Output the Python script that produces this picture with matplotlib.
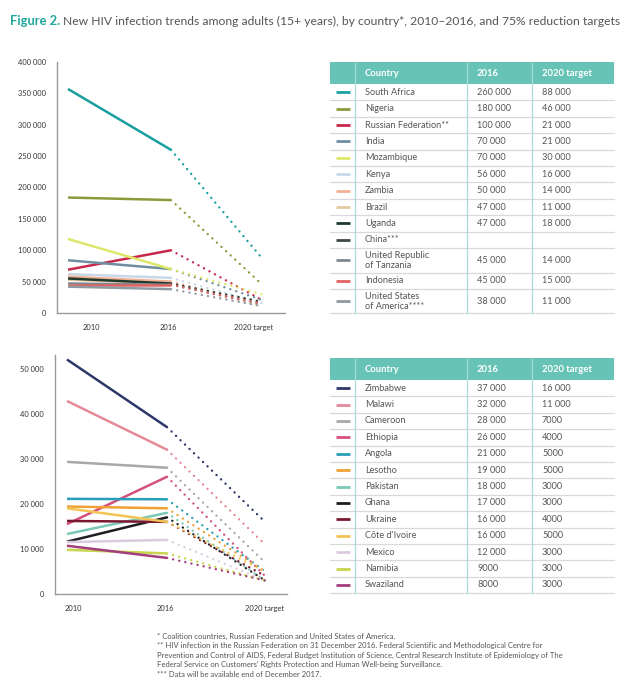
import matplotlib
matplotlib.use("Agg")
import matplotlib.pyplot as plt
from matplotlib.patches import Rectangle
from matplotlib.ticker import FuncFormatter
import matplotlib.transforms as mtrans

plt.rcParams['font.family'] = ['Lato', 'DejaVu Sans']

# ---------------- data ----------------
top_countries = ["South Africa", "Nigeria", "Russian Federation**", "India", "Mozambique",
                 "Kenya", "Zambia", "Brazil", "Uganda", "China***",
                 "United Republic\nof Tanzania", "Indonesia", "United States\nof America****"]
top_2010 = [357000, 184000, 69000, 84000, 118000, 62000, 58000, 53000, 55000, None,
            47000, 45000, 42000]
top_2016 = [260000, 180000, 100000, 70000, 70000, 56000, 50000, 47000, 47000, None,
            45000, 45000, 38000]
top_target = [88000, 46000, 21000, 21000, 30000, 16000, 14000, 11000, 18000, None,
              14000, 15000, 11000]
top_colors = ["#1a9fa0", "#8c9a3c", "#c9284c", "#6f8fa0", "#dde86a", "#c8d8e8",
              "#f2b096", "#e6caa2", "#1f3a2c", "#3c4848", "#7f8890", "#e26262", "#8e9aa2"]

bot_countries = ["Zimbabwe", "Malawi", "Cameroon", "Ethiopia", "Angola", "Lesotho",
                 "Pakistan", "Ghana", "Ukraine", "Côte d'Ivoire", "Mexico", "Namibia", "Swaziland"]
bot_2010 = [52000, 42800, 29300, 15500, 21100, 19400, 13300, 11600, 16200, 19000,
            11500, 9800, 10700]
bot_2016 = [37000, 32000, 28000, 26000, 21000, 19000, 18000, 17000, 16000, 16000,
            12000, 9000, 8000]
bot_target = [16000, 11000, 7000, 4000, 5000, 5000, 3000, 3000, 4000, 5000,
              3000, 3000, 3000]
bot_colors = ["#2e3868", "#e48a98", "#a8a8ac", "#d6507e", "#2a9eb8", "#f0a034",
              "#7cc8b6", "#1e1e22", "#7a1830", "#f2c454", "#dccbe0", "#c8d44c", "#a23e7c"]

x_labels = ["2010", "2016", "2020 target"]
top_yticks = [0, 50000, 100000, 150000, 200000, 250000, 300000, 350000, 400000]
bot_yticks = [0, 10000, 20000, 30000, 40000, 50000]

teal = "#67c3b6"
grey_text = "#555555"

fig = plt.figure(figsize=(6.4, 6.82), dpi=100)

# overlay axes in pixel coordinates for title, tables and notes
ov = fig.add_axes([0, 0, 1, 1], zorder=0)
ov.set_xlim(0, 640)
ov.set_ylim(682, 0)
ov.axis("off")

# title
t1 = ov.text(10, 21, "Figure 2.", color="#20a69c", fontsize=9.3, fontweight="bold",
             va="center", ha="left")
fig.canvas.draw()
bb = t1.get_window_extent()
x_after = bb.x1 + 3
ov.text(x_after, 21, "New HIV infection trends among adults (15+ years), by country*, 2010\u20132016, and 75% reduction targets",
        color=grey_text, fontsize=8.7, va="center", ha="left",
        transform=mtrans.blended_transform_factory(mtrans.IdentityTransform(), ov.transData))

fmt = FuncFormatter(lambda v, p: "0" if v == 0 else f"{int(v):,}".replace(",", " "))


def draw_chart(rect, xpos, tickpos, xlim, v10, v16, vt, colors, yticks, ymax):
    ax = fig.add_axes(rect, zorder=2)
    ax.patch.set_alpha(0)
    for a, b, c, col in zip(v10, v16, vt, colors):
        if a is None:
            continue
        ax.plot(xpos[:2], [a, b], color=col, lw=1.8, solid_capstyle="butt")
        ax.plot(xpos[1:], [b, c], color=col, lw=1.7, linestyle=(0, (0.05, 2.6)),
                dash_capstyle="round")
    ax.set_xlim(*xlim)
    ax.set_ylim(0, ymax)
    ax.set_yticks(yticks)
    ax.yaxis.set_major_formatter(fmt)
    ax.set_xticks(tickpos)
    ax.set_xticklabels(x_labels)
    ax.tick_params(length=0, labelsize=5.4, colors="#333333", pad=8)
    for s in ["top", "right"]:
        ax.spines[s].set_visible(False)
    for s in ["left", "bottom"]:
        ax.spines[s].set_color("#9a9a9a")
        ax.spines[s].set_linewidth(1.0)
    return ax


draw_chart([57 / 640, 1 - 313 / 682, 228 / 640, 251 / 682],
           [0, 1, 1.88], [0.23, 0.97, 1.80], (-0.107, 2.107),
           top_2010, top_2016, top_target, top_colors, top_yticks, 400000)
draw_chart([55 / 640, 1 - 594 / 682, 232 / 640, 239 / 682],
           [0, 1, 1.98], [0.06, 0.98, 1.98], (-0.12, 2.20),
           bot_2010, bot_2016, bot_target, bot_colors, bot_yticks, 53000)


def num(v):
    if v is None:
        return ""
    if v < 10000:
        return str(v)
    return f"{v:,}".replace(",", " ")


def draw_table(y0, countries, v16, vt, colors):
    x0, xc, x16, xt, x1 = 330, 355, 467, 532, 614
    hh = 22
    ov.add_patch(Rectangle((x0, y0), x1 - x0, hh, color=teal, lw=0, zorder=1))
    ov.text(xc + 10, y0 + hh / 2, "Country", color="white", fontsize=6.8,
            fontweight="bold", va="center")
    ov.text(x16 + 10, y0 + hh / 2, "2016", color="white", fontsize=6.8,
            fontweight="bold", va="center")
    ov.text(xt + 10, y0 + hh / 2, "2020 target", color="white", fontsize=6.8,
            fontweight="bold", va="center")
    y = y0 + hh
    for name, a, b, col in zip(countries, v16, vt, colors):
        h = 24.5 if "\n" in name else 16.4
        cy = y + h / 2
        ov.plot([336, 350], [cy, cy], color=col, lw=2.0, solid_capstyle="butt", zorder=3)
        ov.text(xc + 10, cy, name, color=grey_text, fontsize=6.6, va="center",
                linespacing=1.1)
        ov.text(x16 + 10, cy, num(a), color=grey_text, fontsize=6.6, va="center")
        ov.text(xt + 10, cy, num(b), color=grey_text, fontsize=6.6, va="center")
        y += h
        ov.plot([x0, x1], [y, y], color="#d9d9d9", lw=0.9, zorder=2)
    for xv in (xc, x16, xt):
        ov.plot([xv, xv], [y0 + 1, y0 + hh - 1], color="#a6ddd5", lw=0.9, zorder=2)
        ov.plot([xv, xv], [y0 + hh, y], color="#a6ddd5", lw=0.9, zorder=2)


draw_table(62, top_countries, top_2016, top_target, top_colors)
draw_table(358, bot_countries, bot_2016, bot_target, bot_colors)

notes = ["* Coalition countries, Russian Federation and United States of America.",
         "** HIV infection in the Russian Federation on 31 December 2016. Federal Scientific and Methodological Centre for",
         "Prevention and Control of AIDS, Federal Budget Institution of Science, Central Research Institute of Epidemiology of The",
         "Federal Service on Customers\u2019 Rights Protection and Human Well-being Surveillance.",
         "*** Data will be available end of December 2017."]
for i, line in enumerate(notes):
    ov.text(157, 636 + i * 9.6, line, color=grey_text, fontsize=5.5, va="center")

fig.savefig("out.png", dpi=100)
